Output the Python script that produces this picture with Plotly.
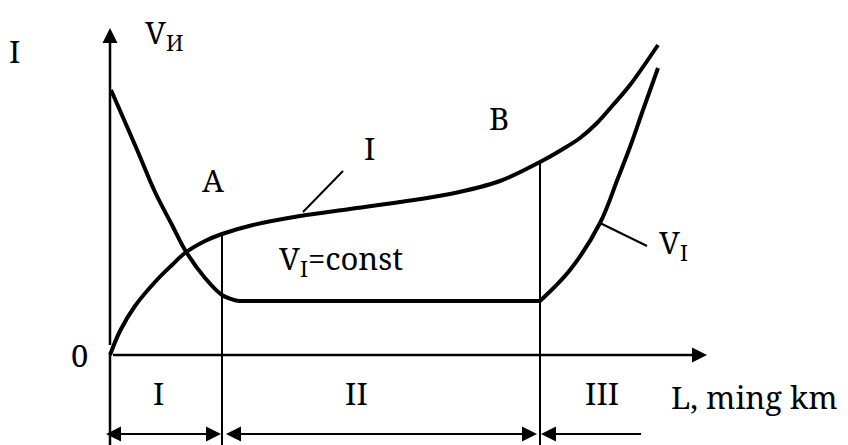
import plotly.graph_objects as go

# ---- data (L in arbitrary units, origin at 0) ----
I_L = [0, 1, 2.5, 4.5, 6.2, 7.5, 9.5, 11.2, 14.3, 19, 24, 29, 34, 39, 43, 45.3, 47, 48.7, 50.3, 52, 54.8]
I_vals = [0, 2.4, 4.9, 7.3, 9.0, 10.2, 11.4, 12.1, 13.0, 13.9, 14.6, 15.3, 16.1, 17.4, 19.3, 20.6, 21.7, 23.2, 25.0, 27.0, 31.0]

V_fall_L = [0.1, 1.5, 2.8, 4.5, 6.2, 7.5, 9.5, 11.2, 12.8]
V_fall_vals = [26.5, 23.3, 20.3, 16.3, 13.0, 10.5, 7.7, 6.0, 5.4]
V_flat_L = [12.8, 43]
V_flat_vals = [5.4, 5.4]
V_rise_L = [43, 46, 49, 50.8, 52, 53.3, 54.8]
V_rise_vals = [5.4, 8.5, 13.2, 17.7, 20.8, 24.5, 28.7]

A_L, A_I = 11.2, 12.1
B_L, B_I = 43, 19.3
line_bottom = -9.2
x_axis_end = 59.7
y_axis_top = 32.7
dim_y = -7.9
dim_arrows = [(-0.7, 11.1, "end+start"), (11.3, 42.7, "end+start"), (53.4, 43.1, "end")]

FONT = "Noto Serif"
BLK = "black"
FS = 31

fig = go.Figure()

def add_line(xs, ys, w, shape="spline"):
    fig.add_trace(go.Scatter(x=xs, y=ys, mode="lines",
                             line=dict(color=BLK, width=w, shape=shape),
                             hoverinfo="skip", showlegend=False, cliponaxis=False))

add_line(I_L, I_vals, 4)
add_line(V_fall_L, V_fall_vals, 4)
add_line(V_flat_L, V_flat_vals, 4, "linear")
add_line(V_rise_L, V_rise_vals, 4)
add_line([A_L, A_L], [A_I, line_bottom], 2, "linear")
add_line([B_L, B_L], [B_I, line_bottom], 2, "linear")
add_line([0, 0], [0, line_bottom], 2.5, "linear")
# leader lines
add_line([19.3, 23.3], [14.3, 18.4], 2, "linear")
add_line([49, 53.7], [13.2, 10.9], 2, "linear")

anns = []
# axes arrows
anns.append(dict(x=0, y=y_axis_top, ax=0, ay=0, xref="x", yref="y", axref="x", ayref="y",
                 showarrow=True, arrowhead=2, arrowsize=1.2, arrowwidth=2.5, arrowcolor=BLK,
                 standoff=0, text=" "))
anns.append(dict(x=x_axis_end, y=0, ax=0, ay=0, xref="x", yref="y", axref="x", ayref="y",
                 showarrow=True, arrowhead=2, arrowsize=1.2, arrowwidth=2.5, arrowcolor=BLK,
                 standoff=0, text=" "))
for x0, x1, side in dim_arrows:
    anns.append(dict(x=x1, y=dim_y, ax=x0, ay=dim_y, xref="x", yref="y", axref="x", ayref="y",
                     showarrow=True, arrowhead=2, startarrowhead=2, arrowsize=1.5, startarrowsize=1.5,
                     arrowwidth=2, arrowcolor=BLK, arrowside=side, standoff=0, startstandoff=0, text=" "))

def label(x, y, t, size=FS, xanchor="center", yanchor="middle", family=FONT):
    anns.append(dict(x=x, y=y, xref="x", yref="y", text=t, showarrow=False,
                     font=dict(family=family, size=size, color=BLK),
                     xanchor=xanchor, yanchor=yanchor))

label(-9.6, 30.4, "I")
label(3.3, 34.6, "V<sub>И</sub>", xanchor="left", yanchor="top")
label(10.3, 17.5, "A")
label(25.9, 20.7, "I")
label(16.7, 9.5, "V<sub>I</sub>=const", xanchor="left")
label(38.9, 23.7, "B")
label(54.7, 11.1, "V<sub>I</sub>", xanchor="left")
label(-3.1, 0, "0")
label(4.8, -3.8, "I")
label(24.6, -3.8, "II")
label(49.2, -3.8, "III")
label(55.9, -4.2, "L, ming km", xanchor="left")

# page body has an 8px margin, so the figure is 8px smaller and ranges start there
fig.update_layout(
    width=840, height=437,
    margin=dict(l=0, r=0, t=0, b=0),
    paper_bgcolor="white", plot_bgcolor="white",
    font=dict(family=FONT),
    xaxis=dict(range=[-10.2, 73.8], visible=False, fixedrange=True),
    yaxis=dict(range=[-9.0, 34.7], visible=False, fixedrange=True),
    annotations=anns,
    showlegend=False,
)

fig.write_html("out.html")
